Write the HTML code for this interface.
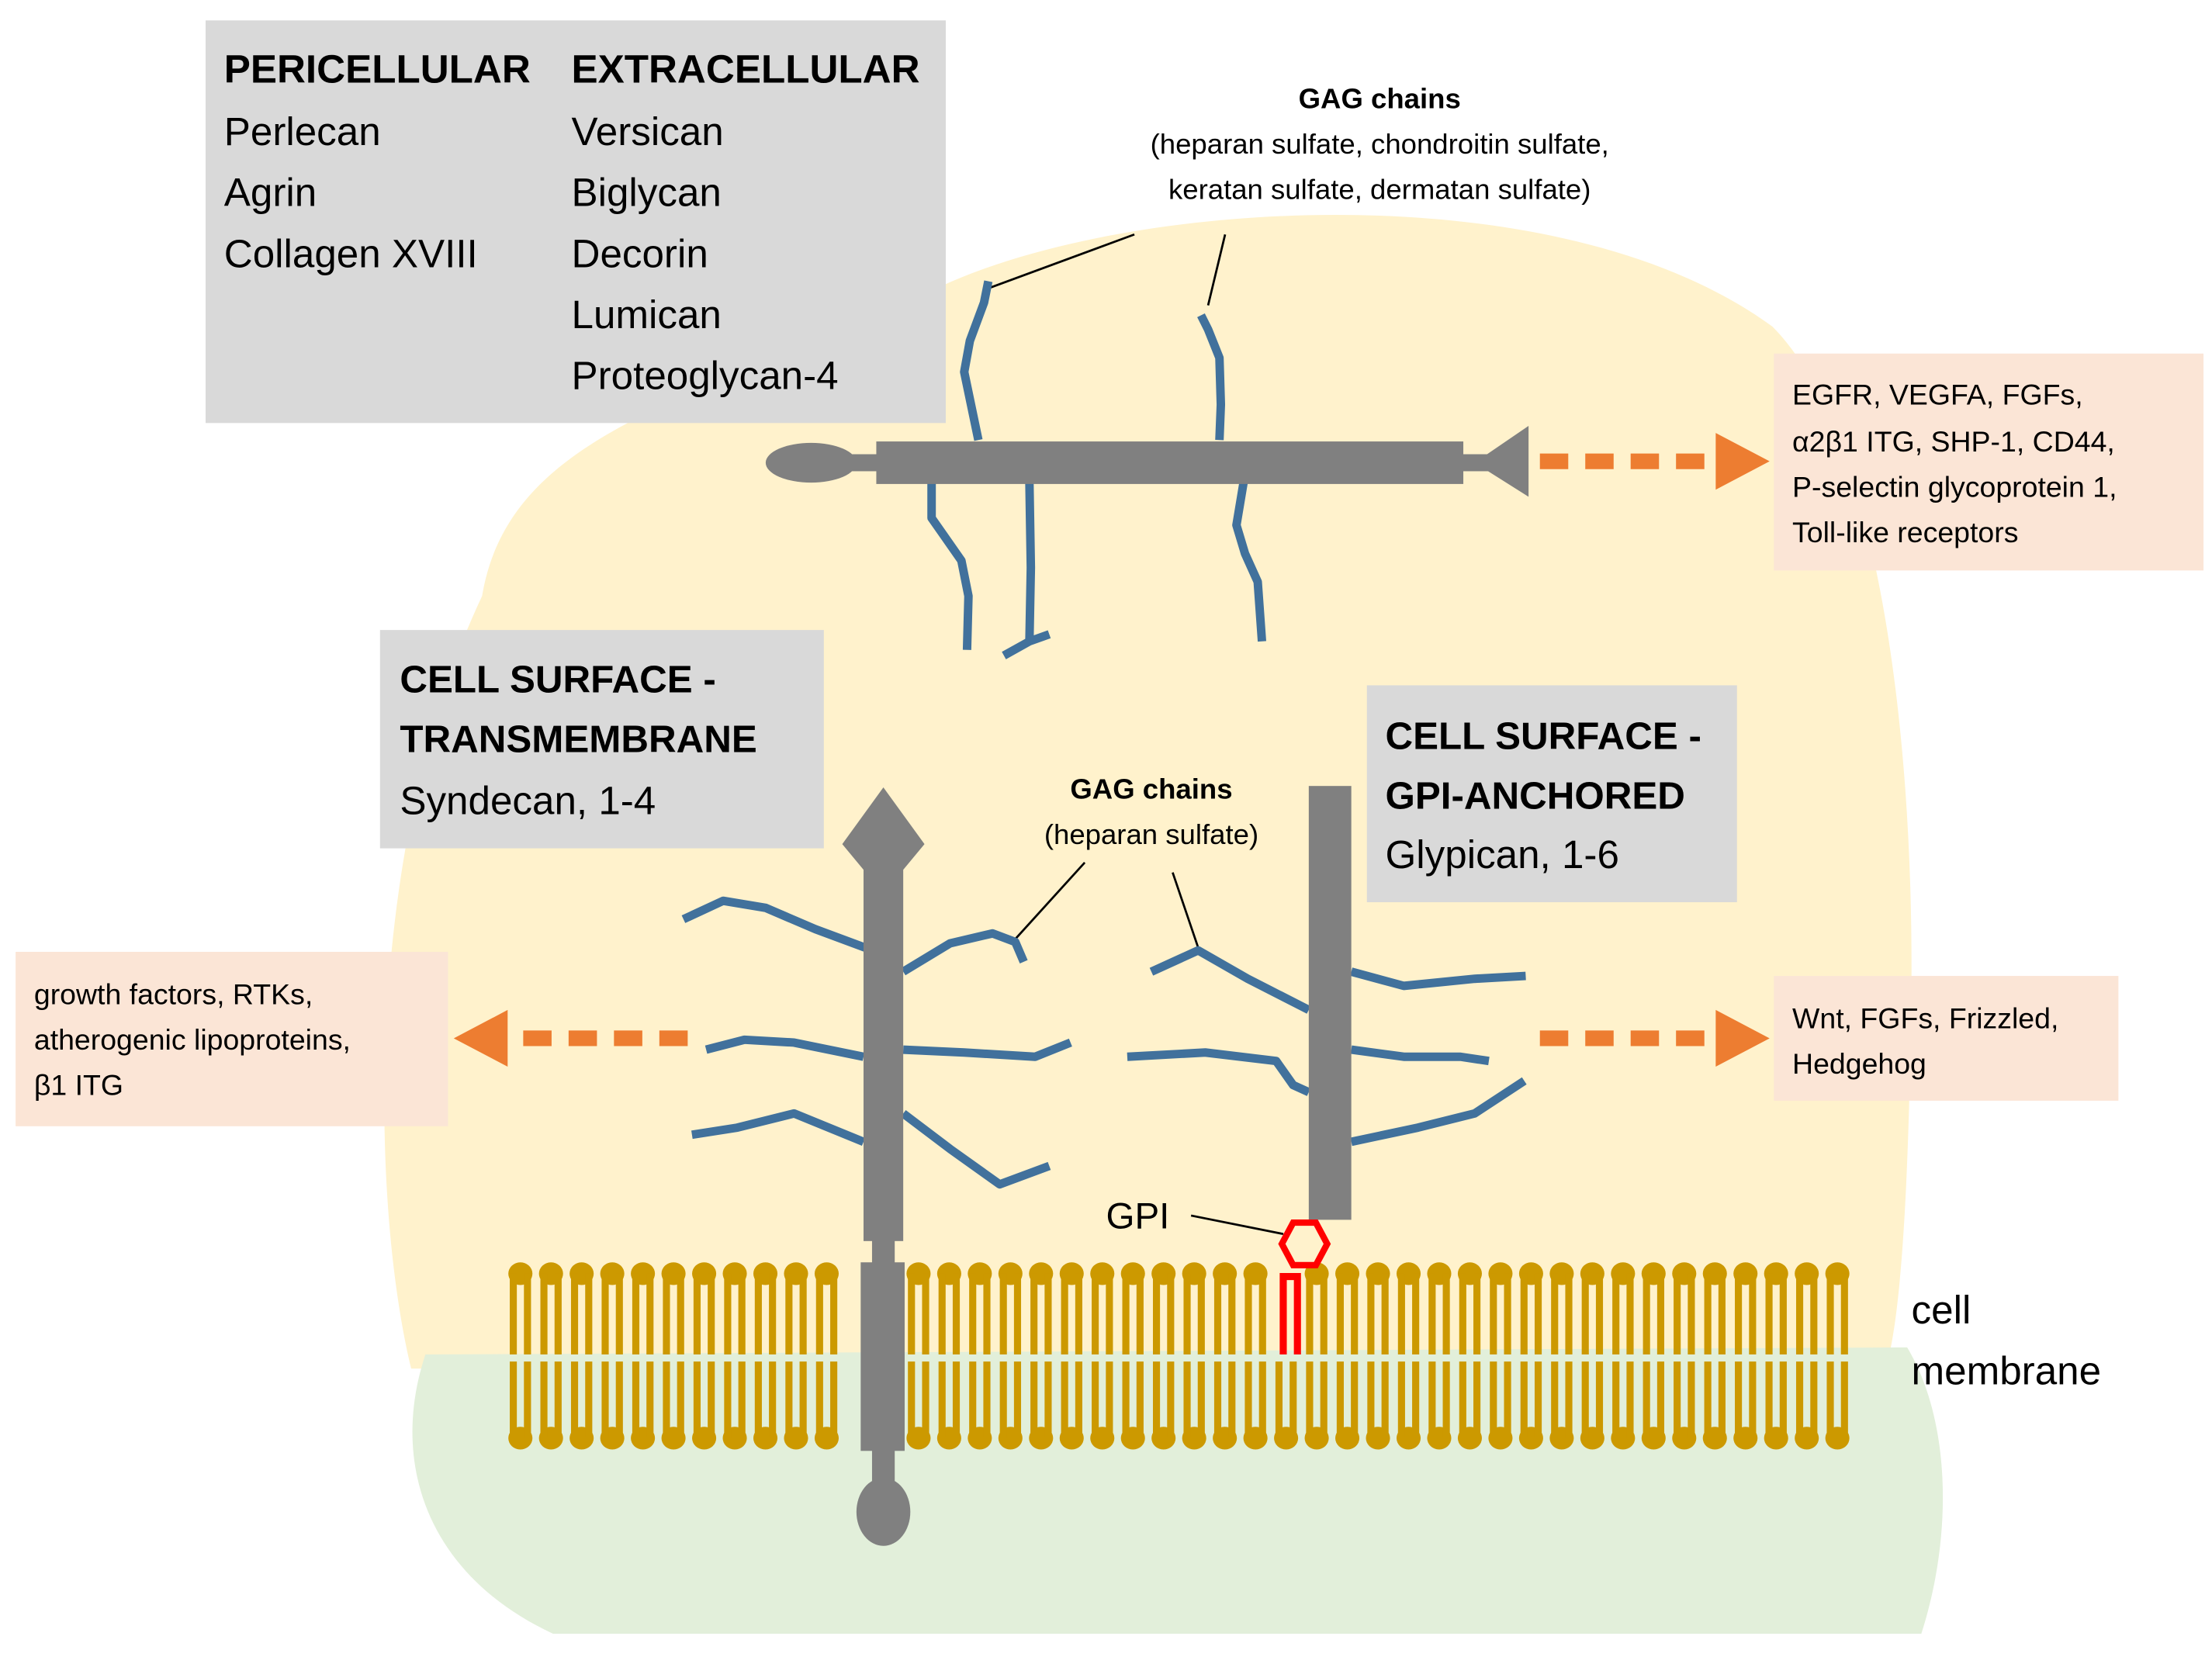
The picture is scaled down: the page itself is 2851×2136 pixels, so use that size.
<!DOCTYPE html>
<html><head><meta charset="utf-8"><style>
html,body{margin:0;padding:0;background:#fff;}
svg{display:block;}
text{font-family:"Liberation Sans",sans-serif;fill:#000;}
</style></head><body>
<svg id="s" width="2851" height="2136" viewBox="0 0 1560 1168" xmlns="http://www.w3.org/2000/svg">
<path d="M340 420 C360 300 500 280 667 200 C800 140 1100 120 1250 230 C1320 300 1350 500 1348 700 C1346 850 1340 930 1330 965 L290 965 C262 850 255 600 340 420 Z" fill="#FFF2CC"/>
<path d="M300 955 C275 1030 300 1110 390 1152 L1355 1152 C1378 1080 1375 1000 1345 950 Z" fill="#E2EFDA"/>
<g id="lip"></g>
<rect x="145" y="14" width="522" height="284" fill="#D9D9D9"/>
<g font-size="28">
<text x="158" y="58" font-weight="bold">PERICELLULAR</text>
<text x="158" y="102">Perlecan</text>
<text x="158" y="145">Agrin</text>
<text x="158" y="188">Collagen XVIII</text>
<text x="403" y="58" font-weight="bold">EXTRACELLULAR</text>
<text x="403" y="102">Versican</text>
<text x="403" y="145">Biglycan</text>
<text x="403" y="188">Decorin</text>
<text x="403" y="231">Lumican</text>
<text x="403" y="274">Proteoglycan-4</text>
</g>
<text x="973" y="76" font-size="20" font-weight="bold" text-anchor="middle">GAG chains</text>
<text x="973" y="108" font-size="20" text-anchor="middle">(heparan sulfate, chondroitin sulfate,</text>
<text x="973" y="140" font-size="20" text-anchor="middle">keratan sulfate, dermatan sulfate)</text>
<line x1="800" y1="165" x2="697" y2="203" stroke="#000" stroke-width="1.5"/>
<line x1="864" y1="165" x2="852" y2="215" stroke="#000" stroke-width="1.5"/>
<g fill="none" stroke="#41719C" stroke-width="6" stroke-linejoin="round">
<path d="M697 198 L694 213 L684 240 L680 262 L690 310"/>
<path d="M847 222 L852 232 L860 252 L861 285 L860 310"/>
<path d="M657 340 L657 365 L664 375 L678 395 L683 420 L682 458"/>
<path d="M726 340 L727 400 L726 452 M708 462 L726 452 L740 447"/>
<path d="M877 340 L872 370 L878 390 L887 410 L890 452"/>
</g>
<ellipse cx="572" cy="326" rx="32" ry="14" fill="#808080"/>
<rect x="590" y="320" width="40" height="12" fill="#808080"/>
<rect x="618" y="311" width="414" height="30" fill="#808080"/>
<rect x="1030" y="320" width="20" height="12" fill="#808080"/>
<polygon points="1040,326 1078,300 1078,350" fill="#808080"/>
<g stroke="#ED7D31" stroke-width="11" stroke-dasharray="20 12">
<line x1="1086" y1="325" x2="1210" y2="325"/>
<line x1="1086" y1="732" x2="1210" y2="732"/>
<line x1="485" y1="732" x2="362" y2="732"/>
</g>
<g fill="#ED7D31">
<polygon points="1210,305 1248,325 1210,345"/>
<polygon points="1210,712 1248,732 1210,752"/>
<polygon points="320,732 358,712 358,752"/>
</g>
<rect x="1251" y="249" width="303" height="153" fill="#FBE5D6"/>
<g font-size="20.5">
<text x="1264" y="285">EGFR, VEGFA, FGFs,</text>
<text x="1264" y="318">α2β1 ITG, SHP-1, CD44,</text>
<text x="1264" y="350">P-selectin glycoprotein 1,</text>
<text x="1264" y="382">Toll-like receptors</text>
</g>
<rect x="11" y="671" width="305" height="123" fill="#FBE5D6"/>
<g font-size="20.5">
<text x="24" y="708">growth factors, RTKs,</text>
<text x="24" y="740">atherogenic lipoproteins,</text>
<text x="24" y="772">β1 ITG</text>
</g>
<rect x="1251" y="688" width="243" height="88" fill="#FBE5D6"/>
<g font-size="20.5">
<text x="1264" y="725">Wnt, FGFs, Frizzled,</text>
<text x="1264" y="757">Hedgehog</text>
</g>
<rect x="268" y="444" width="313" height="154" fill="#D9D9D9"/>
<text x="282" y="488" font-size="27" font-weight="bold">CELL SURFACE -</text>
<text x="282" y="530" font-size="27" font-weight="bold">TRANSMEMBRANE</text>
<text x="282" y="574" font-size="28">Syndecan, 1-4</text>
<rect x="964" y="483" width="261" height="153" fill="#D9D9D9"/>
<text x="977" y="528" font-size="27" font-weight="bold">CELL SURFACE -</text>
<text x="977" y="570" font-size="27" font-weight="bold">GPI-ANCHORED</text>
<text x="977" y="612" font-size="28">Glypican, 1-6</text>
<text x="812" y="563" font-size="20" font-weight="bold" text-anchor="middle">GAG chains</text>
<text x="812" y="595" font-size="20" text-anchor="middle">(heparan sulfate)</text>
<line x1="765" y1="608" x2="716" y2="662" stroke="#000" stroke-width="1.5"/>
<line x1="827" y1="615" x2="845" y2="668" stroke="#000" stroke-width="1.5"/>
<g fill="none" stroke="#41719C" stroke-width="6" stroke-linejoin="round">
<path d="M482 648 L510 635 L540 640 L575 655 L610 668"/>
<path d="M498 740 L525 733 L560 735 L609 745"/>
<path d="M488 800 L520 795 L560 785 L609 805"/>
<path d="M637 685 L670 665 L700 658 L716 664 L722 678"/>
<path d="M637 740 L680 742 L730 745 L755 735"/>
<path d="M637 785 L670 810 L705 835 L740 822"/>
<path d="M812 685 L845 670 L880 690 L923 712"/>
<path d="M795 745 L850 742 L900 748 L912 765 L923 770"/>
<path d="M953 685 L990 695 L1040 690 L1076 688"/>
<path d="M953 740 L990 745 L1030 745 L1050 748"/>
<path d="M953 805 L1000 795 L1040 785 L1075 762"/>
</g>
<polygon points="623,555 652,595 623,630 594,595" fill="#808080"/>
<rect x="609" y="600" width="28" height="275" fill="#808080"/>
<rect x="615" y="870" width="16" height="25" fill="#808080"/>
<rect x="607" y="890" width="31" height="133" fill="#808080"/>
<rect x="615" y="1020" width="16" height="30" fill="#808080"/>
<ellipse cx="623" cy="1066" rx="19" ry="24" fill="#808080"/>
<rect x="923" y="554" width="30" height="306" fill="#808080"/>
<polygon points="912,862 928,862 936,877 928,892 912,892 904,877" fill="none" stroke="#FF0000" stroke-width="4.5"/>
<path d="M905 955 V900 H915 V955" fill="none" stroke="#FF0000" stroke-width="5"/>
<text x="780" y="866" font-size="26">GPI</text>
<line x1="840" y1="857" x2="905" y2="870" stroke="#000" stroke-width="1.5"/>
<text x="1348" y="933" font-size="28">cell</text>
<text x="1348" y="976" font-size="28">membrane</text>
</svg>
<script>
(function(){
var g=document.getElementById('lip'),h='';
for(var i=0;i<44;i++){
 var x=367+i*21.6;
 if(x>600&&x<645)continue;
 var red=Math.abs(x-910)<8;
 var cu=red?'none':'#CC9900';
 h+='<ellipse cx="'+x+'" cy="898" rx="8.5" ry="8" fill="'+cu+'"/>';
 h+='<path d="M'+(x-5)+' 955 V898 M'+(x+5)+' 955 V898" stroke="'+cu+'" stroke-width="5" fill="none"/>';
 h+='<ellipse cx="'+x+'" cy="1014" rx="8.5" ry="8" fill="#CC9900"/>';
 h+='<path d="M'+(x-5)+' 960 V1014 M'+(x+5)+' 960 V1014" stroke="#CC9900" stroke-width="5" fill="none"/>';
}
g.innerHTML=h;
})();
</script>
</body></html>
